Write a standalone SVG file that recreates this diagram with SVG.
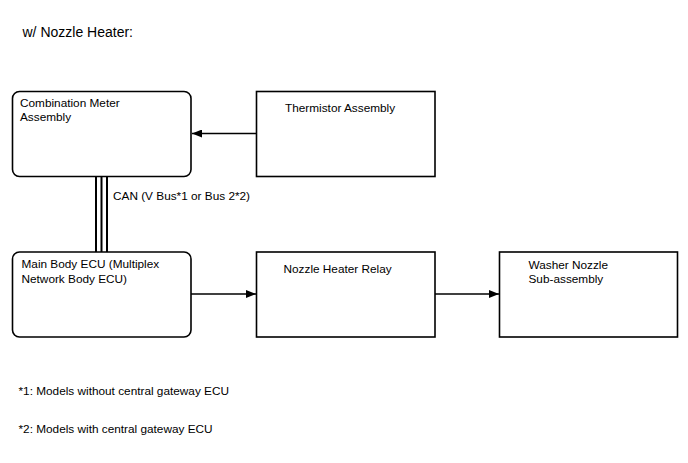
<svg xmlns="http://www.w3.org/2000/svg" width="688" height="463" viewBox="0 0 688 463">
<defs>
<style>
.box{fill:#fff;stroke:#000;stroke-width:1.6}
.t{font-family:"Liberation Sans",Arial,sans-serif;font-size:11.8px;fill:#000}
.ln{stroke:#000;stroke-width:1.3;fill:none}
</style>
<marker id="ah" viewBox="0 0 10 8" refX="10" refY="4" markerWidth="10" markerHeight="8" markerUnits="userSpaceOnUse" orient="auto">
<path d="M0,0 L10,4 L0,8 Z" fill="#000"/>
</marker>
</defs>
<rect width="688" height="463" fill="#fff"/>
<text class="t" x="22.5" y="37" style="font-size:14px">w/ Nozzle Heater:</text>
<g id="connectors">
<line class="ln" x1="256" y1="133.5" x2="192" y2="133.5" marker-end="url(#ah)"/>
<line class="ln" x1="191" y1="294" x2="256" y2="294" marker-end="url(#ah)"/>
<line class="ln" x1="435" y1="294" x2="499" y2="294" marker-end="url(#ah)"/>
<g stroke="#000" stroke-width="2">
<line x1="96" y1="176" x2="96" y2="252"/>
<line x1="101.5" y1="176" x2="101.5" y2="252"/>
<line x1="107" y1="176" x2="107" y2="252"/>
</g>
<text class="t" x="113" y="200">CAN (V Bus*1 or Bus 2*2)</text>
</g>
<g id="combination-meter">
<rect class="box" x="12.5" y="91.5" width="178.5" height="85" rx="7"/>
<text class="t" x="20" y="107">Combination Meter</text>
<text class="t" x="20" y="121">Assembly</text>
</g>
<g id="thermistor">
<rect class="box" x="256.5" y="91.5" width="178.5" height="85"/>
<text class="t" x="285" y="112">Thermistor Assembly</text>
</g>
<g id="main-body-ecu">
<rect class="box" x="12.5" y="252" width="178.5" height="85" rx="7"/>
<text class="t" x="21.5" y="268">Main Body ECU (Multiplex</text>
<text class="t" x="21.5" y="283">Network Body ECU)</text>
</g>
<g id="nozzle-heater-relay">
<rect class="box" x="256.5" y="252" width="178.5" height="85"/>
<text class="t" x="283.5" y="272.5">Nozzle Heater Relay</text>
</g>
<g id="washer-nozzle">
<rect class="box" x="499.5" y="252" width="178" height="85"/>
<text class="t" x="528.5" y="268.5">Washer Nozzle</text>
<text class="t" x="528.5" y="283">Sub-assembly</text>
</g>
<text class="t" x="18.5" y="395">*1: Models without central gateway ECU</text>
<text class="t" x="18.5" y="433">*2: Models with central gateway ECU</text>
</svg>
